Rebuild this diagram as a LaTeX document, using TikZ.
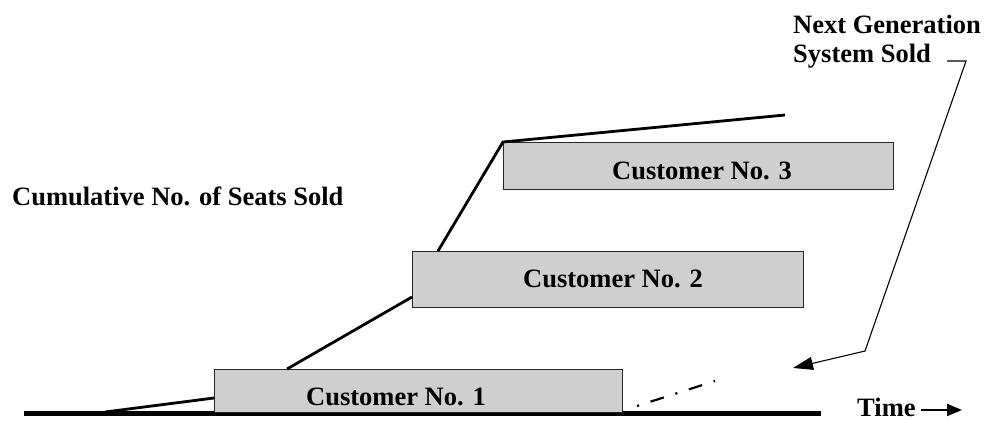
\documentclass[tikz,border=0pt]{standalone}
\usepackage{fontspec}
\setmainfont{Liberation Serif}
\usetikzlibrary{arrows.meta}
\begin{document}
\begin{tikzpicture}[x=1pt,y=-1pt,
  lbl/.style={font=\fontsize{26.5}{29}\selectfont\bfseries, inner sep=0pt, anchor=base west},
  custbox/.style={draw=black!85, line width=0.9pt, fill=black!19, inner sep=0pt},
  curve/.style={line width=2.8pt},
  leader/.style={line width=1.1pt}]
\useasboundingbox (0,0) rectangle (988,421);
% axis
\coordinate (ax0) at (24,413.5);
\coordinate (ax1) at (821,413.5);
\draw[line width=4.5pt] (ax0) -- (ax1);
% boxes
\node[custbox, minimum width=408pt, minimum height=43pt] (b1) at (418,390.5) {};
\node[custbox, minimum width=391pt, minimum height=56pt] (b2) at (607.5,279) {};
\node[custbox, minimum width=390pt, minimum height=47pt] (b3) at (698,165.5) {};
\node[lbl] (t1) at (306,405) {Customer No. 1};
\node[lbl] (t2) at (523,287) {Customer No. 2};
\node[lbl] (t3) at (612,179) {Customer No. 3};
% cumulative curve
\coordinate (c0) at (105,412);
\coordinate (c1) at (214,398);
\coordinate (c2) at (287,369);
\coordinate (c3) at (412,297);
\coordinate (c4) at (438,251);
\coordinate (c5) at (503,142);
\coordinate (c6) at (785,115);
\draw[curve] (c0) -- (c1);
\draw[curve] (c2) -- (c3);
\draw[curve, line join=miter] (c4) -- (c5) -- (c6);
% projected
\coordinate (d0) at (637,406);
\coordinate (d1) at (715,381);
\draw[line width=2.2pt, dash pattern=on 2.2pt off 12pt on 14pt off 12pt] (d0) -- (d1);
% labels
\node[lbl] (yl) at (12,205) {Cumulative No. of Seats Sold};
\node[lbl] (ng1) at (793,33) {Next Generation};
\node[lbl] (ng2) at (793,62) {System Sold};
\node[lbl] (time) at (857,416) {Time};
% leader
\coordinate (l0) at (947,61);
\coordinate (l1) at (966,61);
\coordinate (l2) at (865,351);
\coordinate (l3) at (793,368);
\draw[leader, -{Triangle[length=20pt,width=13pt]}] (l0) -- (l1) -- (l2) -- (l3);
% time arrow
\coordinate (ta0) at (921,410);
\coordinate (ta1) at (962,410);
\draw[line width=2pt, -{Triangle[length=15pt,width=12pt]}] (ta0) -- (ta1);
\end{tikzpicture}
\end{document}
